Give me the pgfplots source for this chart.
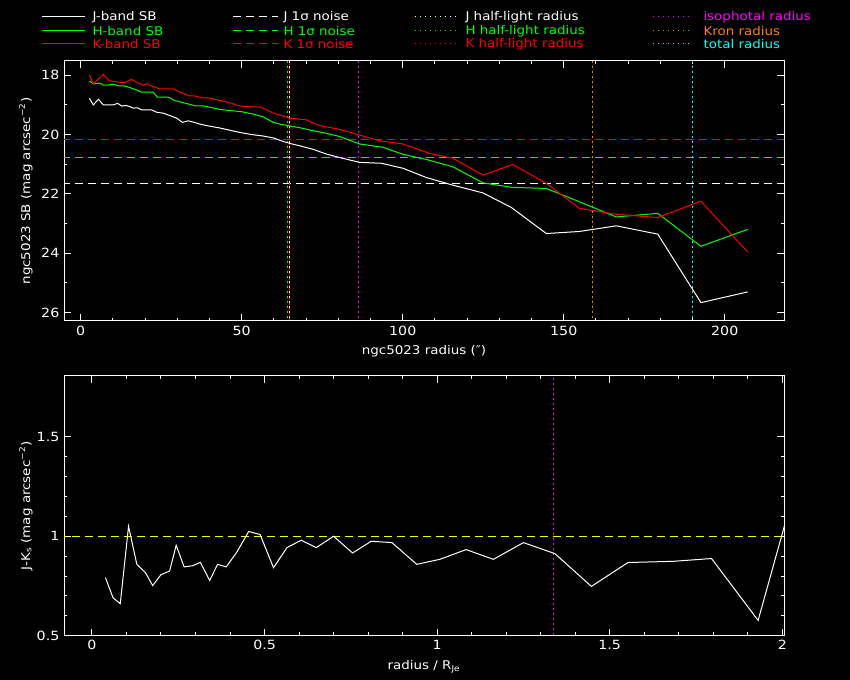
\documentclass[border=0pt]{standalone}
\usepackage{pgfplots}
\pgfplotsset{compat=1.18}
\usepackage{fontspec}
\setmainfont{DejaVu Sans}[FakeStretch=1.12]
\definecolor{pgreen}{RGB}{0,255,0}
\definecolor{pred}{RGB}{255,0,0}
\definecolor{pmag}{RGB}{255,0,255}
\definecolor{porange}{RGB}{255,128,0}
\definecolor{pcyan}{RGB}{0,255,255}
\definecolor{pyellow}{RGB}{255,255,0}
\pgfplotsset{
  pg/.style={
    scale only axis, width=540pt, height=195pt,
    axis line style={white, line width=0.75pt},
    every tick/.style={white, line width=0.75pt},
    major tick length=5.25pt, minor tick length=2.6pt,
    tick align=inside,
    ticklabel style={white, font=\fontsize{9.5}{11}\selectfont},
    label style={white, font=\fontsize{9}{11}\selectfont},
    /pgf/number format/assume math mode=true,
    x label style={at={(axis description cs:0.5,-0.118)}, anchor=center},
    y label style={at={(axis description cs:-0.053,0.5)}, anchor=center},
  },
  sb/.style={line width=0.75pt, no markers},
  noise/.style={line width=0.75pt, no markers, dash pattern=on 6pt off 3.75pt},
  vdot/.style={line width=0.75pt, no markers, dash pattern=on 1.5pt off 2.25pt},
}
\pgfplotstableread{
r J
2.7 18.78
3.9 19.00
5.5 18.81
7.0 19.00
10.1 19.00
11.5 18.95
12.7 19.04
14.0 19.02
15.3 19.06
16.3 19.11
17.6 19.10
18.9 19.17
22.0 19.17
23.6 19.25
25.6 19.28
27.7 19.36
29.8 19.45
31.6 19.59
33.4 19.54
35.0 19.58
37.0 19.65
40.1 19.72
43.2 19.78
47.3 19.88
49.4 19.93
53.0 20.00
56.6 20.05
60.0 20.12
62.5 20.22
64.9 20.30
68.0 20.38
72.2 20.50
76.3 20.66
80.5 20.78
86.6 20.94
93.4 20.97
100.1 21.14
107.3 21.45
115.6 21.71
124.9 21.97
133.7 22.46
144.6 23.34
154.9 23.27
166.3 23.08
179.2 23.36
192.6 25.67
207.1 25.31
}\Jtab
\pgfplotstableread{
r H
2.7 18.19
3.9 18.29
6.0 18.27
7.0 18.33
8.6 18.33
10.1 18.30
11.7 18.36
13.5 18.36
15.3 18.42
17.4 18.50
18.9 18.57
22.5 18.57
23.8 18.74
27.2 18.74
29.3 18.86
31.3 18.91
33.4 18.97
35.5 19.03
38.0 19.03
40.1 19.08
43.2 19.15
45.3 19.18
49.9 19.23
53.5 19.31
56.6 19.40
59.8 19.59
61.8 19.65
64.4 19.70
68.0 19.77
72.2 19.87
76.3 19.96
80.5 20.07
86.6 20.32
93.9 20.43
100.1 20.67
107.3 20.84
115.6 21.09
124.9 21.63
133.7 21.78
144.6 21.82
154.9 22.27
166.3 22.78
179.2 22.66
192.6 23.77
207.1 23.20
}\Htab
\pgfplotstableread{
r K
2.7 17.99
3.9 18.29
7.0 17.97
8.6 18.16
9.6 18.20
12.2 18.24
13.8 18.24
15.8 18.14
17.9 18.27
19.4 18.33
20.7 18.29
22.5 18.38
24.6 18.46
28.7 18.46
29.8 18.52
31.8 18.61
33.9 18.70
35.5 18.70
37.5 18.76
39.5 18.76
41.1 18.80
43.2 18.85
46.0 18.92
49.4 19.04
56.1 19.08
59.8 19.28
62.4 19.36
64.9 19.45
67.5 19.48
70.0 19.50
72.2 19.62
74.8 19.71
80.5 19.83
86.6 20.02
92.8 20.21
100.1 20.32
108.4 20.64
115.6 20.80
124.9 21.37
134.2 21.01
144.6 21.65
154.9 22.49
166.3 22.69
179.2 22.80
192.6 22.25
207.1 23.96
}\Ktab
\pgfplotstableread{
x c
0.039 0.792
0.061 0.691
0.082 0.661
0.106 1.050
0.130 0.859
0.155 0.817
0.176 0.752
0.200 0.807
0.225 0.825
0.244 0.955
0.267 0.846
0.292 0.852
0.314 0.869
0.341 0.778
0.364 0.859
0.389 0.846
0.420 0.921
0.454 1.024
0.487 1.009
0.526 0.842
0.565 0.943
0.606 0.980
0.650 0.943
0.700 1.000
0.755 0.916
0.809 0.975
0.869 0.968
0.941 0.859
1.008 0.884
1.084 0.933
1.163 0.884
1.250 0.968
1.341 0.913
1.447 0.748
1.553 0.868
1.684 0.874
1.795 0.888
1.930 0.577
2.070 1.450
}\JKtab
\begin{document}
\begin{tikzpicture}
\fill[black] (0,0) rectangle (637.5pt,510pt);
% legend
\begin{scope}[line width=0.75pt, every node/.style={anchor=west, inner sep=0pt, font=\fontsize{9}{10}\selectfont}]
\draw[white] (31.5pt,497.25pt) -- (63.75pt,497.25pt);
\node[text=white] at (69pt,497.25pt) {J-band SB};
\draw[pgreen] (31.5pt,486.75pt) -- (63.75pt,486.75pt);
\node[text=pgreen] at (69pt,486.75pt) {H-band SB};
\draw[pred] (31.5pt,477pt) -- (63.75pt,477pt);
\node[text=pred] at (69pt,477pt) {K-band SB};
\draw[white, dash pattern=on 6pt off 3.75pt] (174.75pt,497.25pt) -- (208.5pt,497.25pt);
\node[text=white] at (212.25pt,497.25pt) {J 1σ noise};
\draw[pgreen, dash pattern=on 6pt off 3.75pt] (174.75pt,486.75pt) -- (208.5pt,486.75pt);
\node[text=pgreen] at (212.25pt,486.75pt) {H 1σ noise};
\draw[pred, dash pattern=on 6pt off 3.75pt] (174.75pt,477pt) -- (208.5pt,477pt);
\node[text=pred] at (212.25pt,477pt) {K 1σ noise};
\draw[white, dash pattern=on 0.75pt off 3pt] (311.25pt,497.25pt) -- (342.75pt,497.25pt);
\node[text=white] at (348.75pt,497.25pt) {J half-light radius};
\draw[pgreen, dash pattern=on 0.75pt off 3pt] (311.25pt,486.75pt) -- (342.75pt,486.75pt);
\node[text=pgreen] at (348.75pt,486.75pt) {H half-light radius};
\draw[pred, dash pattern=on 0.75pt off 3pt] (311.25pt,477pt) -- (342.75pt,477pt);
\node[text=pred] at (348.75pt,477pt) {K half-light radius};
\draw[pmag, dash pattern=on 0.75pt off 3pt] (489.75pt,497.25pt) -- (519.75pt,497.25pt);
\node[text=pmag] at (527.25pt,497.25pt) {isophotal radius};
\draw[porange, dash pattern=on 0.75pt off 3pt] (489.75pt,486.75pt) -- (519.75pt,486.75pt);
\node[text=porange] at (527.25pt,486.75pt) {Kron radius};
\draw[pcyan, dash pattern=on 0.75pt off 3pt] (489.75pt,477pt) -- (519.75pt,477pt);
\node[text=pcyan] at (527.25pt,477pt) {total radius};
\end{scope}
% top axis
\begin{axis}[pg, at={(48pt,269.25pt)}, anchor=south west,
  xmin=-5.2, xmax=218.4, ymin=17.52, ymax=26.29, y dir=reverse,
  xtick={0,50,100,150,200}, minor x tick num=4,
  ytick={18,20,22,24,26}, minor y tick num=1,
  xlabel={ngc5023 radius (″)},
  ylabel={ngc5023 SB (mag arcsec\textsuperscript{−2})}]
\addplot[noise, white] coordinates {(-10,21.64) (230,21.64)};
\addplot[noise, pgreen] coordinates {(-10,20.77) (230,20.77)};
\addplot[noise, pred] coordinates {(-10,20.16) (230,20.16)};
\addplot[vdot, pgreen] coordinates {(64.2,17) (64.2,27)};
\addplot[vdot, white] coordinates {(64.7,17) (64.7,27)};
\addplot[vdot, pred, dash phase=1.9pt] coordinates {(64.7,17) (64.7,27)};
\addplot[vdot, pmag] coordinates {(86.4,17) (86.4,27)};
\addplot[vdot, porange] coordinates {(159.0,17) (159.0,27)};
\addplot[vdot, pcyan] coordinates {(190.0,17) (190.0,27)};
\addplot[sb, white] table[x=r, y=J] {\Jtab};
\addplot[sb, pgreen] table[x=r, y=H] {\Htab};
\addplot[sb, pred] table[x=r, y=K] {\Ktab};
\end{axis}
% bottom axis
\begin{axis}[pg, at={(48pt,33.2pt)}, anchor=south west,
  xmin=-0.081, xmax=2.005, ymin=0.5, ymax=1.807,
  xtick={0,0.5,1,1.5,2}, minor x tick num=4,
  ytick={0.5,1,1.5}, minor y tick num=4,
  xlabel={radius / R\textsubscript{Je}},
  ylabel={J-K\textsubscript{s} (mag arcsec\textsuperscript{−2})}]
\addplot[noise, pyellow] coordinates {(-1,1) (3,1)};
\addplot[vdot, pmag] coordinates {(1.337,0) (1.337,2)};
\addplot[sb, white] table[x=x, y=c] {\JKtab};
\end{axis}
\end{tikzpicture}
\end{document}
